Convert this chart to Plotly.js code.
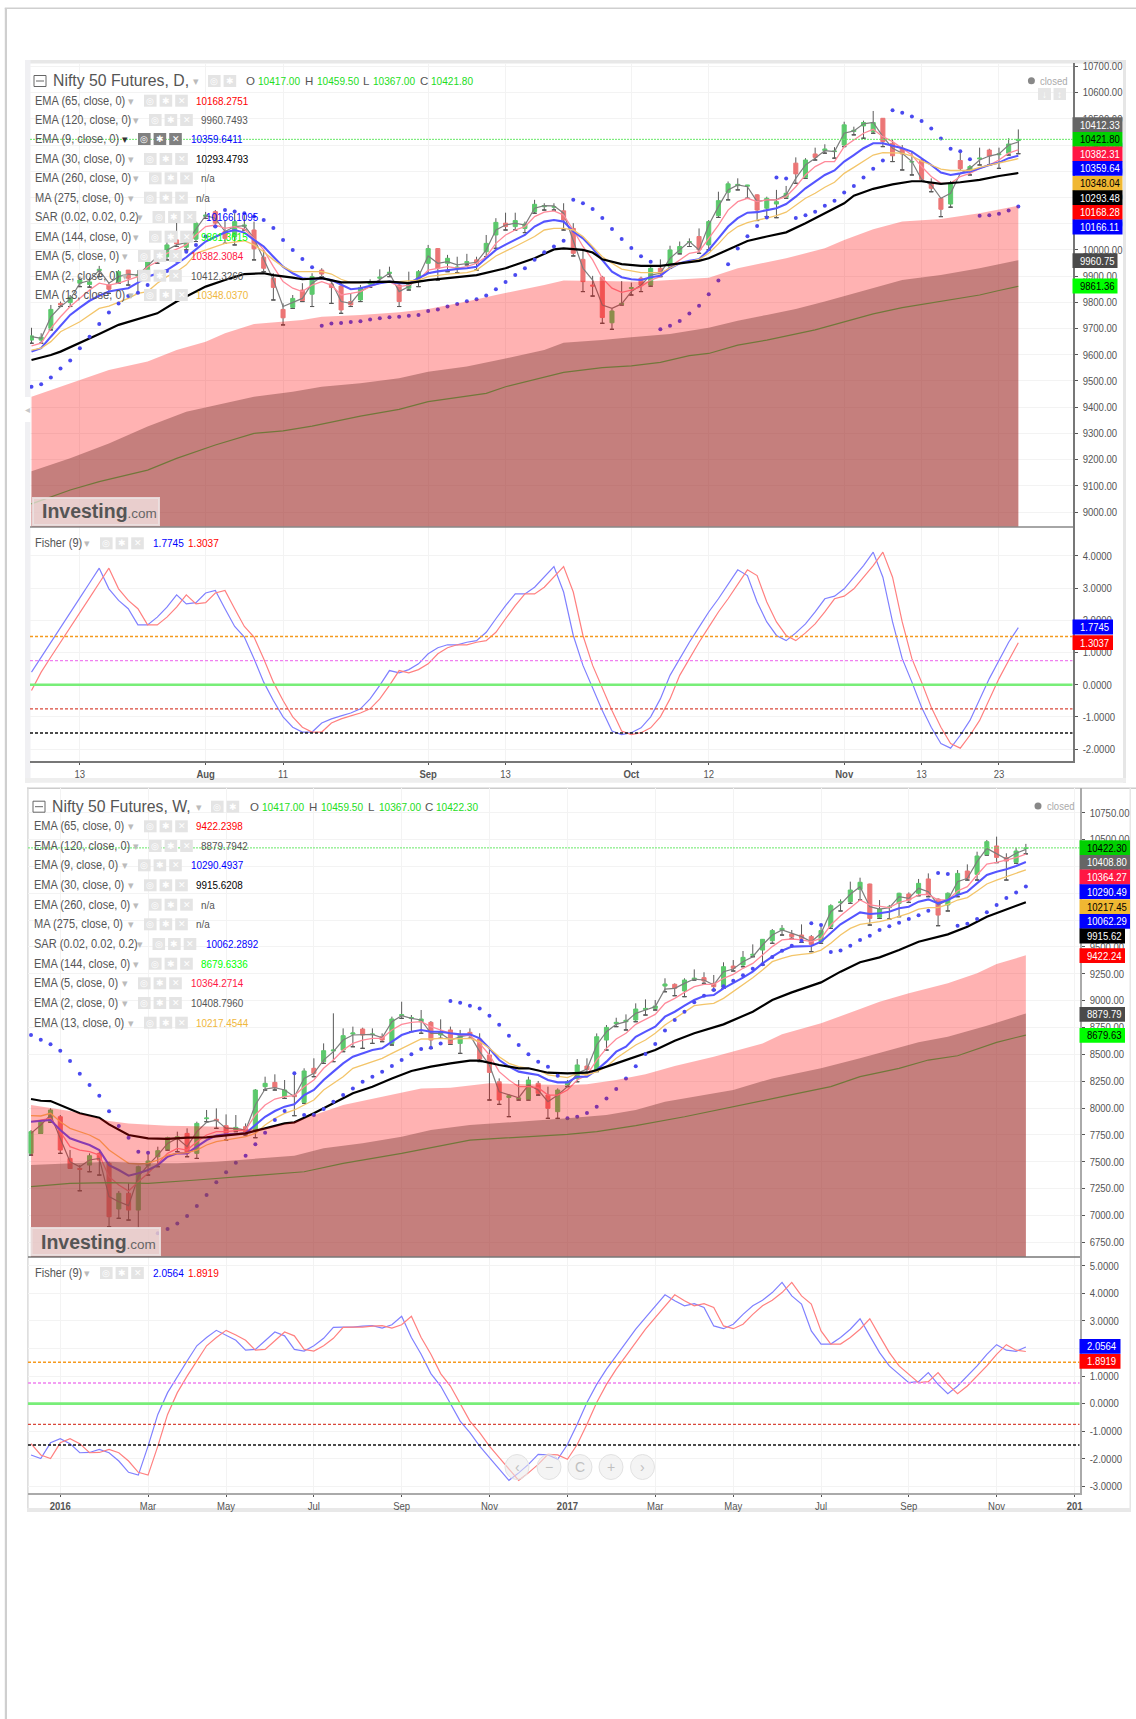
<!DOCTYPE html>
<html><head><meta charset="utf-8">
<script src="https://cdn.plot.ly/plotly-3.0.1.min.js"></script>
<style>html,body{margin:0;padding:0;background:#fff}#c{width:1136px;height:1719px}</style>
</head><body><div id="c"></div>
<script>
// ---------- DAILY (103 bars) ----------
const dOpen=[9656,9656,9701,9796,9799,9873,9868,9921,9866,9879,9923,9900,9923,9985,9974,10038,10010,10041,10128,10146,10070,10051,10090,10076,9972,9892,9773,9781,9847,9831,9923,9870,9862,9803,9809,9870,9892,9910,9866,9854,9879,9949,10005,9949,9930,9951,9962,9993,10057,10102,10089,10082,10146,10165,10163,10149,10082,9964,9866,9896,9722,9793,9853,9892,9866,9930,9936,9990,10029,10051,10019,10131,10220,10245,10243,10210,10159,10175,10201,10331,10277,10366,10379,10375,10400,10452,10473,10451,10502,10407,10388,10335,10343,10254,10197,10175,10341,10299,10347,10381,10363,10369,10417];
const dHigh=[9703,9682,9790,9803,9828,9898,9895,9939,9873,9923,9923,9923,9974,9993,10038,10121,10057,10108,10145,10152,10114,10140,10140,10108,10000,9911,9796,9828,9873,9911,9930,9885,9879,9834,9866,9888,9926,9936,9879,9917,9923,10019,10006,9981,9974,9985,9974,10057,10121,10142,10142,10108,10191,10178,10178,10178,10102,10000,9901,9901,9777,9881,9875,9898,9943,9964,10016,10032,10044,10082,10114,10222,10261,10273,10248,10212,10203,10229,10244,10353,10350,10390,10403,10392,10489,10470,10493,10530,10502,10422,10400,10375,10346,10273,10197,10263,10379,10324,10390,10386,10390,10426,10459.5];
const dLow=[9644,9644,9695,9784,9784,9860,9858,9898,9834,9873,9866,9834,9898,9949,9962,10013,10000,10032,10120,10089,10025,10019,10076,9962,9917,9809,9714,9777,9803,9784,9898,9796,9758,9784,9803,9857,9873,9898,9784,9847,9860,9911,9885,9917,9913,9943,9923,9974,10006,10076,10076,10066,10140,10152,10152,10076,9977,9841,9824,9720,9697,9790,9828,9841,9862,9898,9930,9985,10013,9987,10000,10124,10191,10229,10197,10112,10127,10123,10197,10254,10273,10343,10369,10350,10394,10439,10426,10445,10394,10337,10305,10286,10261,10222,10127,10163,10303,10286,10324,10324,10311,10362,10367];
const dClose=[9672,9667,9773,9790,9819,9885,9878,9926,9850,9917,9892,9905,9955,9972,10019,10023,10041,10102,10133,10102,10044,10108,10095,10004,9930,9857,9741,9815,9807,9898,9908,9857,9771,9790,9857,9875,9896,9915,9803,9876,9917,10005,9930,9968,9934,9955,9949,10025,10105,10089,10112,10099,10174,10169,10165,10114,9987,9879,9862,9742,9767,9796,9856,9866,9930,9908,10000,10013,10031,10000,10108,10188,10252,10250,10247,10152,10197,10184,10216,10290,10343,10353,10385,10377,10477,10456,10486,10486,10413,10359,10366,10337,10269,10235,10155,10254,10310,10318,10350,10358,10366,10404,10421.8];
const dEma2=[9669,9663,9745,9784,9812,9873,9883,9923,9873,9898,9908,9904,9939,9974,10000,10019,10028,10082,10131,10121,10070,10089,10093,10044,9962,9885,9784,9799,9815,9873,9898,9879,9803,9796,9841,9862,9888,9911,9841,9860,9898,9977,9949,9955,9943,9949,9953,10000,10076,10095,10102,10095,10159,10169,10168,10140,10038,9930,9885,9790,9777,9794,9841,9866,9904,9911,9968,10000,10032,10000,10095,10165,10229,10248,10241,10184,10191,10191,10210,10273,10324,10350,10379,10375,10445,10454,10481,10486,10432,10388,10369,10337,10269,10248,10197,10216,10292,10311,10343,10358,10366,10400,10412];
const dEma5=[9634,9644,9701,9745,9784,9815,9847,9873,9866,9873,9885,9898,9936,9955,9987,10004,10019,10057,10089,10095,10082,10089,10079,10044,10000,9936,9879,9854,9841,9866,9879,9866,9828,9834,9841,9860,9873,9879,9860,9866,9885,9923,9930,9936,9930,9936,9949,9974,10025,10057,10076,10089,10127,10144,10149,10133,10076,10013,9962,9892,9854,9838,9847,9860,9885,9898,9936,9962,9987,9993,10044,10095,10152,10184,10197,10184,10191,10191,10203,10241,10286,10318,10337,10337,10394,10420,10445,10460,10432,10413,10388,10362,10318,10280,10254,10254,10280,10292,10311,10324,10343,10369,10382];
const dEma9=[9612,9625,9669,9710,9752,9780,9806,9825,9841,9848,9854,9875,9898,9910,9923,9947,9972,10002,10032,10050,10066,10076,10066,10038,10013,9974,9936,9911,9892,9888,9892,9885,9866,9850,9854,9864,9873,9879,9873,9873,9892,9911,9918,9923,9927,9930,9936,9968,10000,10020,10038,10057,10089,10108,10114,10108,10070,10044,10006,9962,9917,9896,9888,9885,9896,9901,9930,9949,9959,9964,10000,10044,10089,10121,10142,10144,10152,10159,10175,10203,10235,10261,10286,10303,10337,10362,10388,10407,10407,10397,10388,10375,10350,10324,10295,10286,10292,10299,10311,10324,10333,10350,10359.6];
const dEma13X=[0,1,2,3,5,7,8,10,11,12,13,14,15,16,17,18,20,22,23,24,25,26,27,29,30,31,32,33,34,36,38,40,41,43,45,46,47,48,50,52,53,54,55,56,57,58,59,60,61,62,63,64,65,66,67,68,69,70,71,72,73,74,75,76,77,78,79,80,81,82,83,84,85,86,87,88,89,90,91,92,93,94,95,96,97,98,99,100,101,102];
const dEma13=[9618,9625,9650,9688,9726,9777,9786,9815,9834,9841,9873,9898,9917,9943,9987,10000,10025,10035,10019,9993,9962,9936,9917,9917,9917,9908,9888,9875,9875,9879,9879,9885,9898,9908,9913,9923,9949,9977,10013,10051,10076,10082,10082,10076,10051,10013,9974,9949,9927,9920,9913,9913,9913,9930,9949,9955,9964,9987,10023,10063,10089,10104,10114,10121,10131,10144,10171,10197,10216,10239,10258,10292,10315,10337,10362,10371,10369,10369,10358,10339,10324,10308,10303,10303,10303,10315,10324,10330,10339,10348];
const dEma30X=[0,2,3,5,7,9,13,15,18,20,22,24,25,27,28,30,32,34,37,39,41,46,49,52,54,55,57,58,59,61,63,65,67,69,70,72,74,76,78,80,82,84,85,87,89,91,92,94,96,98,100,102];
const dEma30=[9580,9599,9612,9644,9679,9714,9758,9803,9860,9885,9908,9911,9904,9894,9888,9892,9876,9876,9879,9873,9885,9904,9930,9968,10002,10006,10000,9990,9964,9946,9939,9939,9949,9958,9968,10000,10034,10051,10067,10102,10140,10178,10207,10233,10250,10262,10262,10252,10258,10267,10282,10293.5];
const dEma65X=[0,2,5,8,12,15,18,20,23,25,28,30,34,38,41,45,48,53,55,59,63,66,70,73,78,82,84,87,90,94,98,102];
const dEma65=[9440,9466,9504,9542,9574,9618,9650,9682,9717,9724,9733,9745,9752,9762,9775,9803,9828,9866,9883,9881,9879,9885,9894,9930,9968,10006,10038,10079,10108,10118,10140,10168.3];
const dEma120X=[0,4,8,12,16,20,23,27,30,34,38,41,45,49,53,55,59,62,66,70,73,76,79,82,85,88,90,94,98,102];
const dEma120=[9156,9205,9262,9326,9383,9415,9440,9459,9478,9491,9510,9535,9555,9586,9618,9646,9656,9667,9679,9703,9730,9752,9775,9803,9834,9866,9885,9904,9930,9960.7];
const dEma144X=[0,4,7,12,15,19,23,26,29,34,38,41,47,49,55,59,62,65,68,70,73,76,81,84,87,90,94,98,100,102];
const dEma144=[9031,9084,9116,9160,9205,9256,9300,9310,9328,9366,9392,9421,9453,9478,9533,9551,9558,9571,9597,9605,9637,9656,9695,9726,9756,9780,9805,9828,9845,9861.4];
const dSar=[9478,9488,9513,9548,9578,9625,9669,9717,9761,9796,9824,9837,9866,9893,9920,9959,9993,10019,10051,10089,10152,10147,10140,10127,10114,10084,10038,10000,9965,9934,9711,9719,9721,9725,9728,9735,9739,9743,9745,9749,9752,9767,9773,9784,9794,9804,9812,9826,9850,9878,9904,9930,9962,9991,10013,10035,10191,10178,10156,10122,10080,10042,10007,9976,9955,9697,9711,9729,9757,9787,9831,9883,9945,10005,10052,10091,10124,10276,10272,10122,10132,10146,10168,10188,10219,10244,10276,10310,10341,10533,10523,10509,10492,10463,10425,10386,10376,10346,10130,10132,10138,10150,10166];
const dFisher=[0.39,0.86,1.31,1.78,2.24,2.70,3.16,3.62,2.98,2.62,2.36,1.86,1.86,2.10,2.41,2.79,2.51,2.55,2.85,2.93,2.36,1.81,1.48,0.81,0.08,-0.49,-1.0,-1.32,-1.47,-1.47,-1.19,-1.06,-0.97,-0.88,-0.75,-0.44,-0.02,0.44,0.37,0.47,0.65,0.96,1.15,1.24,1.24,1.32,1.37,1.63,2.05,2.46,2.82,2.82,3.03,3.34,3.67,2.88,1.53,0.60,-0.13,-0.80,-1.44,-1.55,-1.49,-1.34,-1.0,-0.44,0.29,0.81,1.32,1.79,2.26,2.67,3.10,3.57,3.39,2.57,1.95,1.53,1.37,1.61,1.89,2.26,2.67,2.75,2.98,3.34,3.70,4.12,3.34,1.95,0.81,0.08,-0.70,-1.32,-1.83,-1.97,-1.57,-1.11,-0.44,0.19,0.75,1.32,1.7745];
const dTrigger=[-0.18,0.39,0.86,1.31,1.78,2.24,2.70,3.16,3.62,2.98,2.62,2.36,1.86,1.86,2.10,2.41,2.79,2.51,2.55,2.85,2.93,2.36,1.81,1.48,0.81,0.08,-0.49,-1.0,-1.32,-1.47,-1.47,-1.19,-1.06,-0.97,-0.88,-0.75,-0.44,-0.02,0.44,0.37,0.47,0.65,0.96,1.15,1.24,1.24,1.32,1.37,1.63,2.05,2.46,2.82,2.82,3.03,3.34,3.67,2.88,1.53,0.60,-0.13,-0.80,-1.44,-1.55,-1.49,-1.34,-1.0,-0.44,0.29,0.81,1.32,1.79,2.26,2.67,3.10,3.57,3.39,2.57,1.95,1.53,1.37,1.61,1.89,2.26,2.67,2.75,2.98,3.34,3.70,4.12,3.34,1.95,0.81,0.08,-0.70,-1.32,-1.83,-1.97,-1.57,-1.11,-0.44,0.19,0.75,1.3037];
const dTickVals=[5,18,26,41,49,62,70,84,92,100];
const dTickText=['13','<b>Aug</b>','11','<b>Sep</b>','13','<b>Oct</b>','12','<b>Nov</b>','13','23'];

// ---------- WEEKLY (103 bars) ----------
const wOpen=[7578,7764,7873,7919,7531,7438,7469,7578,7485,7060,7206,7050,7463,7547,7618,7712,7764,7578,7901,7895,7836,7795,7826,7780,8199,8239,8106,8121,8053,8370,8432,8531,8540,8689,8736,8683,8664,8602,8860,8835,8804,8798,8680,8727,8602,8705,8643,8494,8245,8099,8087,8084,8230,8121,7966,8214,8276,8391,8354,8633,8786,8804,8820,8916,8928,9136,9152,9090,9201,9214,9161,9130,9322,9332,9422,9471,9558,9655,9621,9611,9596,9549,9689,9912,9922,10036,10086,9776,9866,9906,9993,10000,10133,9946,9891,9990,10207,10176,10362,10440,10331,10288,10417];
const wHigh=[7795,7888,7997,7935,7609,7469,7578,7594,7500,7227,7299,7463,7578,7640,7733,7780,7811,7873,7982,7997,7941,7935,7857,8177,8292,8314,8261,8314,8370,8463,8602,8882,8742,8758,8748,8742,8695,8851,8990,8866,8913,8810,8826,8758,8727,8742,8696,8556,8276,8127,8261,8292,8252,8199,8183,8261,8456,8463,8695,8773,8841,8872,8975,9012,9006,9208,9161,9208,9291,9264,9239,9357,9378,9462,9524,9574,9667,9704,9658,9710,9611,9695,9897,9943,10108,10145,10089,9937,9891,10005,10008,10133,10185,9953,10008,10216,10269,10387,10496,10527,10372,10424,10459.5];
const wLow=[7562,7764,7867,7578,7438,7230,7407,7376,6895,6973,6957,6880,7376,7454,7609,7594,7547,7531,7873,7811,7702,7780,7749,7724,8168,8168,8090,7929,8044,8292,8416,8432,8525,8571,8556,8602,8618,8587,8835,8711,8696,8556,8649,8593,8509,8649,8432,8075,8034,7920,8075,8075,8121,7904,7904,8199,8245,8332,8339,8540,8758,8727,8804,8866,8913,9083,9046,9037,9192,9161,9099,9115,9276,9316,9409,9332,9534,9611,9580,9543,9456,9534,9673,9835,9906,9937,9704,9766,9760,9782,9915,9977,9968,9698,9835,9968,10123,10123,10356,10285,10123,10279,10367];
const wClose=[7780,7867,7982,7609,7438,7429,7556,7516,6988,7206,7050,7454,7507,7603,7724,7733,7578,7857,7907,7882,7764,7820,7780,8168,8230,8190,8168,8106,8345,8323,8534,8540,8674,8699,8680,8689,8633,8829,8869,8841,8829,8633,8705,8602,8680,8674,8456,8332,8075,8115,8093,8261,8137,7997,8168,8245,8401,8360,8664,8751,8798,8817,8922,8928,8950,9155,9115,9192,9208,9183,9130,9316,9301,9403,9431,9571,9652,9673,9596,9580,9524,9652,9884,9919,10030,10102,9766,9853,9872,10000,9937,10092,9984,9797,10000,10185,10139,10347,10480,10334,10300,10393,10422.3];
const wEma2=[7764,7842,7935,7718,7500,7454,7516,7531,7175,7128,7091,7361,7469,7562,7671,7718,7640,7780,7867,7888,7811,7811,7795,8028,8177,8190,8168,8106,8276,8323,8447,8525,8633,8680,8686,8686,8655,8804,8860,8835,8820,8696,8696,8633,8664,8680,8525,8401,8152,8121,8096,8214,8168,8059,8121,8199,8323,8363,8587,8711,8779,8804,8882,8913,8944,9108,9115,9161,9201,9192,9146,9270,9295,9363,9409,9518,9611,9658,9627,9596,9549,9627,9828,9897,9990,10061,9875,9853,9866,9968,9953,10046,10015,9891,9937,10108,10139,10294,10418,10372,10319,10372,10408.8];
const wEma5=[7873,7888,7904,7780,7640,7609,7594,7562,7361,7283,7227,7314,7392,7485,7578,7625,7609,7687,7749,7780,7780,7789,7795,7935,8028,8084,8106,8115,8199,8261,8370,8447,8540,8602,8633,8649,8649,8727,8779,8798,8804,8758,8727,8696,8680,8674,8602,8494,8339,8261,8199,8199,8190,8121,8121,8168,8261,8308,8447,8556,8643,8696,8779,8826,8872,8975,9021,9077,9130,9152,9152,9208,9245,9301,9347,9425,9503,9565,9574,9565,9549,9580,9704,9791,9866,9937,9891,9875,9866,9915,9937,9984,9990,9937,9937,10021,10061,10170,10272,10288,10310,10331,10364.3];
const wEma9=[7873,7879,7888,7795,7718,7687,7656,7609,7469,7423,7370,7392,7423,7469,7547,7578,7578,7640,7702,7743,7755,7758,7764,7842,7919,7972,8013,8034,8121,8168,8261,8339,8416,8478,8509,8540,8556,8618,8680,8711,8727,8711,8711,8696,8686,8686,8649,8556,8447,8385,8339,8323,8308,8261,8239,8239,8292,8292,8354,8432,8525,8571,8664,8711,8758,8851,8897,8953,9006,9043,9052,9115,9161,9214,9270,9347,9409,9465,9503,9509,9509,9549,9627,9711,9766,9822,9807,9813,9828,9860,9875,9922,9943,9906,9937,9984,10015,10092,10170,10201,10223,10254,10290.5];
const wEma13=[7929,7926,7951,7873,7811,7780,7749,7702,7609,7547,7485,7479,7485,7516,7562,7578,7584,7609,7656,7687,7702,7712,7733,7764,7842,7904,7951,7982,8028,8075,8168,8230,8292,8370,8401,8432,8463,8509,8556,8602,8643,8643,8649,8643,8649,8649,8618,8556,8478,8416,8385,8370,8354,8308,8292,8283,8323,8308,8339,8385,8463,8525,8587,8633,8696,8773,8835,8897,8953,8966,8975,9021,9083,9146,9214,9285,9363,9394,9419,9431,9440,9471,9534,9611,9673,9711,9720,9735,9757,9788,9813,9853,9866,9866,9897,9937,9959,10021,10086,10123,10154,10185,10217.5];
const wEma30X=[0,1,2,3,5,7,8,10,12,14,16,18,20,22,24,26,27,29,31,33,35,37,39,41,43,45,46,48,50,51,53,55,57,58,60,62,64,66,68,71,74,76,78,81,83,85,87,89,91,94,96,98,100,102];
const wEma30=[8084,8068,8065,8028,7951,7910,7848,7749,7718,7712,7724,7727,7749,7764,7811,7857,7867,7951,8044,8137,8199,8276,8345,8385,8416,8441,8441,8401,8370,8370,8329,8323,8329,8354,8416,8478,8540,8627,8696,8779,8897,9006,9077,9170,9270,9357,9403,9471,9549,9617,9689,9782,9850,9915.6];
const wEma65X=[0,4,8,10,14,18,20,22,24,27,29,32,36,40,43,47,51,55,57,60,63,66,70,73,75,77,81,85,87,90,94,97,99,102];
const wEma65=[8028,7972,7879,7857,7836,7826,7826,7801,7811,7873,7935,8028,8106,8183,8190,8230,8221,8214,8221,8261,8314,8391,8478,8550,8602,8686,8789,8922,8990,9068,9161,9254,9341,9422.2];
const wEma120X=[0,4,8,12,15,19,23,27,30,34,38,41,45,49,53,55,59,62,65,67,72,76,81,85,88,91,94,98,102];
const wEma120=[7469,7485,7500,7485,7485,7500,7531,7556,7625,7671,7733,7795,7842,7867,7888,7904,7935,7982,8059,8090,8168,8276,8370,8463,8540,8612,8664,8767,8879.8];
const wEma144X=[0,4,8,12,17,23,28,32,38,45,55,58,62,67,73,77,82,85,89,92,95,99,102];
const wEma144=[7268,7299,7305,7299,7330,7370,7407,7485,7578,7702,7755,7780,7836,7919,8028,8106,8199,8292,8370,8447,8487,8612,8679.6];
const wSar=[8680,8637,8593,8534,8438,8320,8214,8115,7969,7833,7724,7594,7584,6833,6873,6926,6994,7088,7190,7308,7401,7491,7556,7662,7771,7888,7972,8323,7935,7935,7991,8059,8121,8183,8245,8292,8339,8391,8447,8500,8550,8562,8602,8997,8981,8953,8928,8860,8776,8674,8587,8500,8432,8385,8301,7904,7919,7954,8013,8090,8177,8276,8388,8503,8596,8723,8820,8897,8984,9046,9099,9133,9186,9236,9298,9338,9406,9465,9512,9558,9720,9704,9453,9468,9512,9565,9605,9658,9692,9726,9760,9794,9838,10189,10179,9698,9717,9760,9822,9891,9956,10008,10062.3];
const wFisher=[-1.86,-1.99,-1.42,-1.27,-1.45,-1.78,-1.77,-1.66,-1.78,-2.08,-2.49,-2.59,-1.54,-0.39,0.40,1.00,1.55,2.10,2.40,2.66,2.49,2.30,1.94,1.97,2.28,2.60,2.46,1.97,1.91,2.10,2.37,2.77,2.78,2.78,2.81,2.83,2.74,2.86,3.17,2.40,1.79,1.09,0.64,-0.02,-0.63,-1.05,-1.54,-1.96,-2.35,-2.78,-2.51,-2.20,-1.84,-1.86,-2.02,-1.48,-0.75,0.04,0.70,1.25,1.73,2.22,2.70,3.12,3.55,3.95,3.73,3.55,3.63,3.49,2.82,2.72,2.88,3.24,3.55,3.75,4.03,4.40,3.91,3.61,2.64,2.16,2.16,2.40,2.70,3.08,2.46,1.85,1.37,1.07,0.76,0.80,1.13,0.70,0.36,0.64,1.00,1.37,1.79,2.14,1.94,1.90,2.0564];
const wTrigger=[-1.45,-1.86,-1.99,-1.42,-1.27,-1.45,-1.78,-1.77,-1.66,-1.78,-2.08,-2.49,-2.59,-1.54,-0.39,0.40,1.00,1.55,2.10,2.40,2.66,2.49,2.30,1.94,1.97,2.28,2.60,2.46,1.97,1.91,2.10,2.37,2.77,2.78,2.78,2.81,2.83,2.74,2.86,3.17,2.40,1.79,1.09,0.64,-0.02,-0.63,-1.05,-1.54,-1.96,-2.35,-2.78,-2.51,-2.20,-1.84,-1.86,-2.02,-1.48,-0.75,0.04,0.70,1.25,1.73,2.22,2.70,3.12,3.55,3.95,3.73,3.55,3.63,3.49,2.82,2.72,2.88,3.24,3.55,3.75,4.03,4.40,3.91,3.61,2.64,2.16,2.16,2.40,2.70,3.08,2.46,1.85,1.37,1.07,0.76,0.80,1.13,0.70,0.36,0.64,1.00,1.37,1.79,2.14,1.94,1.8919];
const wTickVals=[3,12,20,29,38,47,55,64,72,81,90,99,107];
const wTickText=['<b>2016</b>','Mar','May','Jul','Sep','Nov','<b>2017</b>','Mar','May','Jul','Sep','Nov','<b>201</b>'];

// ---------- axis ticks, levels, labels ----------
const dPriceTicks=[9000,9100,9200,9300,9400,9500,9600,9700,9800,9900,10000,10100,10200,10300,10400,10500,10600,10700];
const wPriceTicks=[6750,7000,7250,7500,7750,8000,8250,8500,8750,9000,9250,9500,9750,10000,10250,10500,10750];
const dFisherTicks=[-2,-1,0,1,2,3,4];
const dFisherText=['-2.0000','-1.0000','0.0000','1.0000','2.0000','3.0000','4.0000'];
const wFisherTicks=[-3,-2,-1,0,1,2,3,4,5];
const wFisherText=['-3.0000','-2.0000','-1.0000','0.0000','1.0000','2.0000','3.0000','4.0000','5.0000'];
const fisherLevels=[1.5,0.75,0,-0.75,-1.5];
const fisherLevelColors=['#f59a1e','#f080f0','#78ee78','#d9483b','#111111'];
const dLast=10421.8, wLast=10422.3;

const legendNames=['EMA (65, close, 0)','EMA (120, close, 0)','EMA (9, close, 0)','EMA (30, close, 0)','EMA (260, close, 0)','MA (275, close, 0)','SAR (0.02, 0.02, 0.2)','EMA (144, close, 0)','EMA (5, close, 0)','EMA (2, close, 0)','EMA (13, close, 0)'];
const legendColors=['#ff0000','#555555','#0000ff','#000000','#555555','#555555','#0000ff','#00ff00','#ff1744','#555555','#f0b73c'];
const dLegendVals=['10168.2751','9960.7493','10359.6411','10293.4793','n/a','n/a','10166.1095','9861.3615','10382.3084','10412.3260','10348.0370'];
const wLegendVals=['9422.2398','8879.7942','10290.4937','9915.6208','n/a','n/a','10062.2892','8679.6336','10364.2714','10408.7960','10217.4544'];
const dBoxText=['10412.33','10421.80','10382.31','10359.64','10348.04','10293.48','10168.28','10166.11','9960.75','9861.36'];
const dBoxBg=['#666666','#00d000','#ff1744','#0000ff','#f0b732','#000000','#ff0000','#0000ff','#4a4a4a','#00ff00'];
const dBoxFg=['#fff','#000','#fff','#fff','#000','#fff','#fff','#fff','#fff','#000'];
const wBoxText=['10422.30','10408.80','10364.27','10290.49','10217.45','10062.29','9915.62','9422.24','8879.79','8679.63'];
const wBoxBg=['#00d000','#666666','#ff1744','#0000ff','#f0b732','#0000ff','#000000','#ff0000','#4a4a4a','#00ff00'];
const wBoxFg=['#000','#fff','#fff','#fff','#000','#fff','#fff','#fff','#fff','#000'];

// ---------- page geometry (px) ----------
const W=1136,H=1719;
const px=x=>x/W, py=y=>1-y/H;
const range=a=>a.map((_, i)=>i);
const FONT="'Liberation Sans',Arial,sans-serif";
const GREEN='#5cc96c',RED='#ec7676';

function candles(o,h,l,c,xa,ya){
  const x=range(o);
  return [
   {type:'candlestick',x,open:l,close:l,high:h,low:l,xaxis:xa,yaxis:ya,hoverinfo:'skip',showlegend:false,
    increasing:{line:{color:'#5a5a5a',width:1},fillcolor:'#5a5a5a'},decreasing:{line:{color:'#5a5a5a',width:1},fillcolor:'#5a5a5a'}},
   {type:'candlestick',x,open:o,close:c,high:o.map((v,i)=>Math.max(v,c[i])),low:o.map((v,i)=>Math.min(v,c[i])),xaxis:xa,yaxis:ya,hoverinfo:'skip',showlegend:false,
    increasing:{line:{color:GREEN,width:1},fillcolor:GREEN},decreasing:{line:{color:RED,width:1},fillcolor:RED}}
  ];
}
const line=(x,y,color,width,xa,ya)=>({type:'scatter',mode:'lines',x,y,xaxis:xa,yaxis:ya,line:{color,width},hoverinfo:'skip',showlegend:false});
const dots=(y,xa,ya)=>({type:'scatter',mode:'markers',x:range(y),y,xaxis:xa,yaxis:ya,marker:{color:'#4a4af0',size:4},hoverinfo:'skip',showlegend:false});
const area=(x,y,color,xa,ya)=>({type:'scatter',mode:'lines',x,y,xaxis:xa,yaxis:ya,fill:'tozeroy',fillcolor:color,line:{width:0,color:color},hoverinfo:'skip',showlegend:false});
const PINK='rgba(255,0,0,0.3)',BROWN='rgba(139,75,71,0.5)',LIME='#10e840';

const traces=[
 ...candles(dOpen,dHigh,dLow,dClose,'x','y'),
 line(range(dEma2),dEma2,'#7d7d7d',1.2,'x','y'),
 line(range(dEma5),dEma5,'#ff8a9a',1.3,'x','y'),
 line(range(dEma9),dEma9,'#5555ff',2.1,'x','y'),
 line(dEma13X,dEma13,'#f3c56a',1.3,'x','y'),
 line(dEma30X,dEma30,'#000000',2.2,'x','y'),
 line(dEma144X,dEma144,LIME,1.2,'x','y'),
 dots(dSar,'x','y'),
 area(dEma65X,dEma65,PINK,'x','y'),
 area(dEma120X,dEma120,BROWN,'x','y'),
 line(range(dFisher),dFisher,'#8080ff',1.2,'x','y2'),
 line(range(dTrigger),dTrigger,'#ff8080',1.2,'x','y2'),
 ...candles(wOpen,wHigh,wLow,wClose,'x2','y3'),
 line(range(wEma2),wEma2,'#7d7d7d',1.2,'x2','y3'),
 line(range(wEma5),wEma5,'#ff8a9a',1.3,'x2','y3'),
 line(range(wEma9),wEma9,'#5555ff',2.1,'x2','y3'),
 line(range(wEma13),wEma13,'#f3c56a',1.3,'x2','y3'),
 line(wEma30X,wEma30,'#000000',2.2,'x2','y3'),
 line(wEma144X,wEma144,LIME,1.2,'x2','y3'),
 dots(wSar,'x2','y3'),
 area(wEma65X,wEma65,PINK,'x2','y3'),
 area(wEma120X,wEma120,BROWN,'x2','y3'),
 line(range(wFisher),wFisher,'#8080ff',1.2,'x2','y4'),
 line(range(wTrigger),wTrigger,'#ff8080',1.2,'x2','y4')
];

const tf={family:FONT,size:10.9,color:'#555555'};
const xAxis=(l,r,rng,anchor,vals,txt,lc)=>({domain:[px(l),px(r)],range:rng,anchor,tickmode:'array',tickvals:vals,ticktext:txt,tickfont:tf,
  showgrid:true,gridcolor:'#f3f3f3',gridwidth:1,zeroline:false,ticks:'outside',ticklen:2,tickcolor:'#555',showline:true,linecolor:lc,linewidth:2,
  rangeslider:{visible:false},fixedrange:true,automargin:false});
const yAxis=(top,bot,rng,anchor,vals,txt,lc)=>({domain:[py(bot),py(top)],range:rng,anchor,side:'right',tickmode:'array',tickvals:vals,ticktext:txt,tickfont:tf,
  showgrid:true,gridcolor:'#f3f3f3',gridwidth:1,zeroline:false,ticks:'outside',ticklen:3,ticklabelstandoff:3,tickcolor:'#555',showline:true,linecolor:lc,linewidth:2,fixedrange:true,automargin:false});
const fmt2=a=>a.map(v=>v.toFixed(2));

const shapes=[],ann=[];
const rect=(x0,y0,x1,y1,fill,extra)=>shapes.push(Object.assign({type:'rect',xref:'paper',yref:'paper',x0:px(x0),x1:px(x1),y0:py(y0),y1:py(y1),fillcolor:fill,line:{width:0},layer:'above'},extra||{}));
const frame=(x0,y0,x1,y1,fill)=>rect(x0,y0,x1,y1,fill,{layer:'below'});
const txt=(x,y,text,color,size,opt)=>{
  const a=Object.assign({xref:'paper',yref:'paper',x:px(x),y:py(y),text,showarrow:false,xanchor:'left',yanchor:'middle',align:'left',borderpad:0,font:{family:FONT,size:size||11,color:color||'#555'}},opt||{});
  if(a.xanchor==='center') a.align='center';
  ann.push(a);
};

// page frame
frame(4.8,8,7,1719,'#cfcfcf');
frame(4.8,7.5,1136,9,'#cfcfcf');
frame(25,60,1126,63.5,'#e8e8e8');
frame(25,60,30.5,783,'#f0f0f3');
frame(1123,60,1126,783,'#e6e6e6');
frame(25,778,1126,782.7,'#eeeeee');
frame(25,397,30.5,422,'#ffffff');
frame(27,787.5,1136,789,'#cccccc');
frame(27.2,787.5,28.6,1512,'#d8d8d8');
frame(1129.5,787.5,1131,1512,'#e6e6e6');
frame(27,1508,1131,1512,'#e8e8e8');
txt(27.6,409.5,'◂','#c8c8c8',10,{xanchor:'center'});
// pane separators
rect(30,526.2,1073,527.8,'#888888');
rect(28,1256.2,1080,1257.8,'#777777');

// levels + last price
fisherLevels.forEach((v,i)=>{
  const zero=v===0;
  const d=zero?'solid':'3px,2px', w=zero?2.6:1.4, c=fisherLevelColors[i];
  shapes.push({type:'line',xref:'x domain',yref:'y2',x0:0,x1:1,y0:v,y1:v,line:{color:c,width:w,dash:d},layer:'above'});
  shapes.push({type:'line',xref:'x2 domain',yref:'y4',x0:0,x1:1,y0:v,y1:v,line:{color:c,width:w,dash:d},layer:'above'});
});
shapes.push({type:'line',xref:'x domain',yref:'y',x0:0,x1:1,y0:dLast,y1:dLast,line:{color:'#66e866',width:1,dash:'2px,1px'},layer:'above'});
shapes.push({type:'line',xref:'x2 domain',yref:'y3',x0:0,x1:1,y0:wLast,y1:wLast,line:{color:'#66e866',width:1,dash:'2px,1px'},layer:'above'});

function icons(x,y,n,fill){
  const g=['◎','✱','✕'];
  for(let i=0;i<n;i++){
    const a=x+i*15.6;
    rect(a,y-6,a+12.6,y+6,fill);
    txt(a+6.3,y,g[i],'#ffffff',9,{xanchor:'center'});
  }
}
const arrow=(x,y,c)=>txt(x,y,'▾',c||'#bbbbbb',11,{xanchor:'center'});

// legend blocks
const iconX=[144,149,138,144,149,144,152.5,149,138,138,144];
const valX=[195,200,190,195,200,195,205,200,190,190,195];
function legend(rowY,vals,nameX,hot){
  legendNames.forEach((n,i)=>{
    txt(nameX,rowY[i],n,'#555555',12);
    arrow(iconX[i]-13,rowY[i],i===hot?'#333':'#bbb');
    icons(iconX[i],rowY[i],3,i===hot?'#808080':'#e4e4e4');
    txt(valX[i],rowY[i],vals[i],vals[i]==='n/a'?'#555555':legendColors[i],11.3);
  });
}
legend([100.7,120,139,159,178.3,197.7,217,236.7,256,275.7,295],dLegendVals,34.4,2);
legend([826.3,846,865.3,885.3,904.7,924.3,944,963.7,983.3,1003,1022.7],wLegendVals,33.3,-1);

function header(cx,y,title,ax,ohlcX,vals){
  shapes.push({type:'rect',xref:'paper',yref:'paper',x0:px(cx),x1:px(cx+12),y0:py(y-5.5),y1:py(y+5.5),line:{color:'#666',width:1},fillcolor:'#fff',layer:'above'});
  shapes.push({type:'line',xref:'paper',yref:'paper',x0:px(cx+2),x1:px(cx+10),y0:py(y),y1:py(y),line:{color:'#666',width:1},layer:'above'});
  txt(cx+18,y,title,'#555555',15.8);
  arrow(ax,y,'#bbb');
  icons(ax+12,y,2,'#e4e4e4');
  ['O','H','L','C'].forEach((k,i)=>{
    txt(ohlcX[i*2],y,k,'#555555',11.5);
    txt(ohlcX[i*2+1],y,vals[i],'#22dd22',11.5);
  });
}
header(34,81,'Nifty 50 Futures, D,',196,[245,257,304,316,362,372,419,430],['10417.00','10459.50','10367.00','10421.80']);
header(33,806.7,'Nifty 50 Futures, W,',199,[248.5,261,308,320,367,377.5,424,435],['10417.00','10459.50','10367.00','10422.30']);

// Fisher legends
[[543.3,'1.7745','1.3037',34],[1273,'2.0564','1.8919',33.5]].forEach(r=>{
  txt(r[3],r[0],'Fisher (9)','#555555',12);
  arrow(87,r[0]);
  icons(100,r[0],3,'#e4e4e4');
  txt(152,r[0],r[1],'#0000ff',11.5);
  txt(187,r[0],r[2],'#ff0000',11.5);
});

// closed status
const circ=(x,y,rx,ry,fill,lc)=>shapes.push({type:'circle',xref:'paper',yref:'paper',x0:px(x-rx),x1:px(x+rx),y0:py(y-ry),y1:py(y+ry),fillcolor:fill,line:{width:lc?1:0,color:lc||fill},layer:'above'});
circ(1031.4,80.7,3.5,3.5,'#888888'); txt(1039,80.7,'closed','#aaaaaa',10.9);
rect(1038,88,1051,100,'#e6e6e6'); rect(1053.5,88,1066,100,'#e6e6e6');
txt(1044.5,94,'↓','#ffffff',10,{xanchor:'center'}); txt(1059.7,94,'↕','#ffffff',10,{xanchor:'center'});
circ(1038,806,3.5,3.5,'#888888'); txt(1045.5,806,'closed','#aaaaaa',10.9);

// logos
function logo(x0,y0,x1,y1){
  rect(x0,y0,x1,y1,'rgba(255,255,255,0.62)',{line:{color:'rgba(235,225,225,0.9)',width:2}});
  txt(x0+8,(y0+y1)/2,'<b>Investing</b><span style="font-size:13.5px;color:#666">.com</span>','#555555',19.5);
}
logo(33,498,159,525);
logo(31.5,1228,160,1255);

// nav buttons
const navX=[517,549,580,611,642.5],navG=['‹','−','C','+','›'];
navX.forEach((x,i)=>{circ(x,1467,12,12.5,'rgba(235,235,235,0.55)','#e2e2e2');txt(x,1467,navG[i],'#c0c0c0',14,{xanchor:'center'});});

// right-hand value boxes
function boxes(texts,bg,fg,ys,x,w5,w4,off){
  texts.forEach((t,i)=>{
    const w=t.length>7?w5:w4;
    rect(x,ys[i]-7.4,x+w,ys[i]+7.4,bg[i]);
    txt(x+off,ys[i],t,fg[i],10.9);
  });
}
boxes(dBoxText,dBoxBg,dBoxFg,[124.7,139.3,154,168.3,183.3,197.7,212.3,227,260.7,286],1072.5,50,45,6.8);
boxes(wBoxText,wBoxBg,wBoxFg,[847.7,862.3,877,891.7,906.7,921.3,936,955.7,1014.3,1035.3],1079.5,50.5,45.5,6.5);
boxes(['1.7745','1.3037'],['#0000ff','#ff0000'],['#fff','#fff'],[627,642.7],1072.5,40.5,40.5,6);
boxes(['2.0564','1.8919'],['#0000ff','#ff0000'],['#fff','#fff'],[1346.3,1361.3],1079.5,41,41,6.5);

const layout={
 width:W,height:H,margin:{l:0,r:0,t:0,b:0},autosize:false,paper_bgcolor:'#ffffff',plot_bgcolor:'rgba(0,0,0,0)',showlegend:false,
 font:{family:FONT},hovermode:false,dragmode:false,boxgap:0.4,
 xaxis:xAxis(30,1072.5,[-0.155,107.6],'y2',dTickVals,dTickText,'#777'),
 xaxis2:xAxis(28,1079.5,[-0.31,107.5],'y4',wTickVals,wTickText,'#aaa'),
 yaxis:yAxis(63,527,[8943,10713],'x',dPriceTicks,fmt2(dPriceTicks),'#777'),
 yaxis2:yAxis(527,761,[-2.37,4.9],'x',dFisherTicks,dFisherText,'#777'),
 yaxis3:yAxis(788,1257,[6613,10980],'x2',wPriceTicks,fmt2(wPriceTicks),'#aaa'),
 yaxis4:yAxis(1257,1493,[-3.24,5.32],'x2',wFisherTicks,wFisherText,'#aaa'),
 shapes,annotations:ann
};
// The reference's lettering is slightly condensed: squeeze each real text horizontally.
function condense(){
  document.querySelectorAll('#c svg text').forEach(t=>{
    const s=t.textContent||'';
    if(!s||s.startsWith('Nifty')||s.startsWith('Investing')||s.length<2) return;
    const f=/^(EMA|MA |SAR|Fisher)/.test(s)?0.92:0.875;
    const w=t.getComputedTextLength();
    if(w>0){t.setAttribute('textLength',(w*f).toFixed(1));t.setAttribute('lengthAdjust','spacingAndGlyphs');}
  });
}
Plotly.newPlot('c',traces,layout,{displayModeBar:false,staticPlot:true,responsive:false}).then(condense);
</script></body></html>
